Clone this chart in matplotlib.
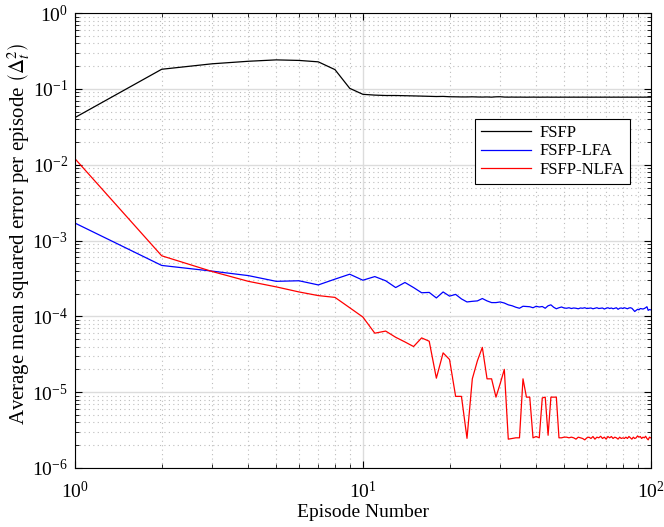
import matplotlib
matplotlib.use("Agg")
import matplotlib.pyplot as plt
import numpy as np

plt.rcParams['font.family'] = ['Liberation Serif', 'DejaVu Serif']
plt.rcParams['mathtext.fontset'] = 'stix'

episodes = list(range(1, 101))

fsfp = [0.042, 0.182, 0.215, 0.232, 0.242, 0.238, 0.228, 0.180, 0.102, 0.085,
        0.083, 0.082, 0.082, 0.0815, 0.081, 0.0805, 0.080, 0.0795, 0.0798, 0.0790,
        0.0788, 0.0785, 0.0785, 0.0788, 0.0784, 0.0782, 0.0785, 0.0780, 0.0788, 0.0790,
        0.0782, 0.0780, 0.0782, 0.0780, 0.0781, 0.0780, 0.0779, 0.0780, 0.0781, 0.0780,
        0.0779, 0.0780, 0.0780, 0.0781, 0.0779, 0.0780, 0.0780, 0.0779, 0.0780, 0.0780,
        0.0780, 0.0779, 0.0780, 0.0780, 0.0780, 0.0779, 0.0780, 0.0780, 0.0780, 0.0780,
        0.0780, 0.0779, 0.0780, 0.0780, 0.0780, 0.0780, 0.0779, 0.0780, 0.0780, 0.0780,
        0.0780, 0.0780, 0.0779, 0.0780, 0.0780, 0.0780, 0.0780, 0.0780, 0.0779, 0.0780,
        0.0780, 0.0780, 0.0780, 0.0780, 0.0780, 0.0779, 0.0780, 0.0780, 0.0780, 0.0780,
        0.0780, 0.0780, 0.0780, 0.0779, 0.0780, 0.0780, 0.0780, 0.0780, 0.0780, 0.0780]

fsfp_lfa = [1.70e-3, 4.70e-4, 3.95e-4, 3.45e-4, 2.90e-4, 2.95e-4, 2.60e-4, 3.10e-4, 3.60e-4, 3.00e-4,
            3.35e-4, 2.95e-4, 2.40e-4, 2.80e-4, 2.40e-4, 2.05e-4, 2.07e-4, 1.75e-4, 2.10e-4, 1.85e-4,
            1.95e-4, 1.70e-4, 1.55e-4, 1.58e-4, 1.60e-4, 1.72e-4, 1.60e-4, 1.52e-4, 1.52e-4, 1.55e-4,
            1.50e-4, 1.42e-4, 1.38e-4, 1.32e-4, 1.28e-4, 1.36e-4, 1.35e-4, 1.34e-4, 1.30e-4, 1.36e-4,
            1.33e-4, 1.35e-4, 1.28e-4, 1.38e-4, 1.42e-4, 1.32e-4, 1.26e-4, 1.30e-4, 1.33e-4, 1.29e-4,
            1.28e-4, 1.30e-4, 1.27e-4, 1.29e-4, 1.28e-4, 1.26e-4, 1.29e-4, 1.28e-4, 1.30e-4, 1.27e-4,
            1.28e-4, 1.29e-4, 1.26e-4, 1.28e-4, 1.30e-4, 1.27e-4, 1.28e-4, 1.29e-4, 1.25e-4, 1.28e-4,
            1.30e-4, 1.27e-4, 1.29e-4, 1.26e-4, 1.28e-4, 1.30e-4, 1.24e-4, 1.28e-4, 1.29e-4, 1.27e-4,
            1.30e-4, 1.28e-4, 1.26e-4, 1.29e-4, 1.30e-4, 1.28e-4, 1.22e-4, 1.16e-4, 1.20e-4, 1.24e-4,
            1.22e-4, 1.27e-4, 1.26e-4, 1.25e-4, 1.27e-4, 1.30e-4, 1.34e-4, 1.20e-4, 1.23e-4, 1.22e-4]

fsfp_nlfa = [1.20e-2, 6.30e-4, 3.90e-4, 2.90e-4, 2.45e-4, 2.10e-4, 1.88e-4, 1.78e-4, 1.30e-4, 9.80e-5,
             6.00e-5, 6.40e-5, 5.30e-5, 4.60e-5, 4.00e-5, 5.20e-5, 4.70e-5, 1.53e-5, 3.30e-5, 2.70e-5,
             8.80e-6, 8.80e-6, 2.46e-6, 1.50e-5, 2.60e-5, 3.90e-5, 1.50e-5, 1.50e-5, 8.60e-6, 1.30e-5,
             2.00e-5, 2.40e-6, 2.45e-6, 2.50e-6, 2.50e-6, 1.50e-5, 8.60e-6, 8.60e-6, 2.50e-6, 2.60e-6,
             2.50e-6, 8.40e-6, 8.60e-6, 2.70e-6, 8.60e-6, 8.60e-6, 8.60e-6, 2.50e-6, 2.50e-6, 2.55e-6,
             2.55e-6, 2.50e-6, 2.55e-6, 2.50e-6, 2.40e-6, 2.55e-6, 2.50e-6, 2.45e-6, 2.35e-6, 2.50e-6,
             2.55e-6, 2.45e-6, 2.60e-6, 2.40e-6, 2.55e-6, 2.50e-6, 2.62e-6, 2.45e-6, 2.55e-6, 2.40e-6,
             2.60e-6, 2.50e-6, 2.60e-6, 2.45e-6, 2.55e-6, 2.50e-6, 2.40e-6, 2.55e-6, 2.45e-6, 2.50e-6,
             2.45e-6, 2.55e-6, 2.45e-6, 2.60e-6, 2.50e-6, 2.40e-6, 2.55e-6, 2.45e-6, 2.50e-6, 2.65e-6,
             2.55e-6, 2.60e-6, 2.45e-6, 2.55e-6, 2.50e-6, 2.62e-6, 2.45e-6, 2.35e-6, 2.55e-6, 2.50e-6]

series_names = ['FSFP', 'FSFP-LFA', 'FSFP-NLFA']
x_label = 'Episode Number'
y_label = r'Average mean squared error per episode $\left(\Delta_t^2\right)$'

fig = plt.figure(figsize=(6.64, 5.27), dpi=100)
ax = fig.add_axes([0.113, 0.112, 0.867, 0.863])

ax.plot(episodes, fsfp, color='black', lw=0.9, label=series_names[0])
ax.plot(episodes, fsfp_lfa, color='blue', lw=0.9, label=series_names[1])
ax.plot(episodes, fsfp_nlfa, color='red', lw=0.9, label=series_names[2])

ax.set_xscale('log')
ax.set_yscale('log')
ax.set_xlim(1, 100)
ax.set_ylim(1e-6, 1)

ax.grid(True, which='major', color='#dcdcdc', linestyle='-', linewidth=1.0)
ax.grid(True, which='minor', color='#bdbdbd', linestyle=(0, (1, 3)), linewidth=0.8)
ax.set_axisbelow(True)

ax.tick_params(which='both', direction='in', top=True, right=True, labelsize=14)
ax.tick_params(which='major', length=5, width=0.8)
ax.tick_params(which='minor', length=3, width=0.6)
ax.tick_params(axis='x', which='major', pad=9)
ax.tick_params(axis='y', which='major', pad=5)
ax.yaxis.set_major_locator(matplotlib.ticker.LogLocator(base=10, numticks=10))
ax.yaxis.set_minor_locator(matplotlib.ticker.LogLocator(base=10, subs=np.arange(2, 10), numticks=20))
ax.yaxis.set_minor_formatter(matplotlib.ticker.NullFormatter())
ax.xaxis.set_minor_formatter(matplotlib.ticker.NullFormatter())
for sp in ax.spines.values():
    sp.set_linewidth(0.8)

ax.set_xlabel(x_label, fontsize=14, labelpad=2)
ax.set_ylabel(y_label, fontsize=15)
ax.yaxis.set_label_coords(-0.075, 0.516)

leg = ax.legend(loc='upper right', bbox_to_anchor=(0.964, 0.767), fontsize=12,
                fancybox=False, edgecolor='black', framealpha=1, borderaxespad=0,
                handlelength=3.0, borderpad=0.35, labelspacing=0.15, handletextpad=0.5)
leg.get_frame().set_linewidth(0.8)

fig.savefig('out.png', dpi=100)
